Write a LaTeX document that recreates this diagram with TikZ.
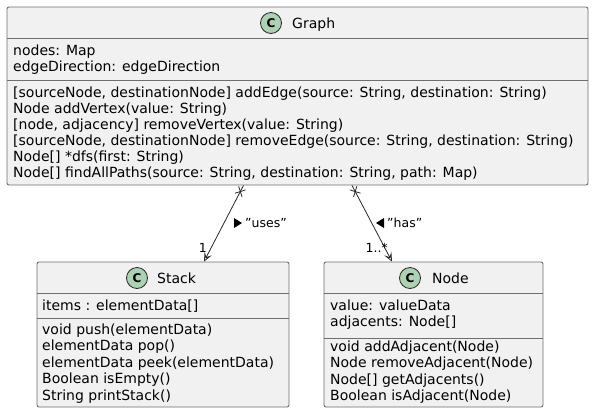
\documentclass[tikz,border=0pt]{standalone}
\usepackage{fontspec}
\setmainfont{DejaVu Sans}
\usepackage[x11names]{xcolor}
\usepackage{tikz}
\usetikzlibrary{arrows.meta,shapes.misc}

\definecolor{boxfill}{HTML}{F1F1F1}
\definecolor{boxline}{HTML}{6E6E6E}
\definecolor{spotfill}{HTML}{ADD1B2}

\tikzset{
    classbox/.style={draw=boxline, fill=boxfill, rounded corners=2pt, line width=0.9pt, inner sep=0pt},
    spot/.style={circle, draw=black!85, fill=spotfill, line width=0.8pt, minimum size=21pt, inner sep=0pt, font=\fontsize{12}{12}\selectfont\bfseries},
    title/.style={anchor=base west, inner sep=0pt, font=\fontsize{14}{16}\selectfont},
    member/.style={anchor=base west, inner sep=0pt, font=\fontsize{14}{16}\selectfont},
    tag/.style={inner sep=0pt, font=\fontsize{12.5}{14}\selectfont},
    assoc/.style={draw=black!85, line width=0.8pt, -{Stealth[length=9pt, width=8pt, inset=4pt, open, fill=none]}},
    xmark/.style={cross out, draw=black!85, line width=0.8pt, minimum size=7pt, inner sep=0pt}
}

\begin{document}
\begin{tikzpicture}[x=1pt, y=-1pt]
    \useasboundingbox (0,0) rectangle (594,413);
        %Class boxes
    \node[classbox, minimum width=581pt, minimum height=178pt] (graph) at (297.5,96) {};
    \node[classbox, minimum width=252pt, minimum height=145pt] (stack) at (163,334.5) {};
    \node[classbox, minimum width=219pt, minimum height=145pt] (node) at (433.5,334.5) {};
        %Dividers
    \foreach \y in {38.5, 80}
    \draw[boxline, line width=0.9pt] (7,\y) -- (588,\y);
    \foreach \y in {293, 318}
    \draw[boxline, line width=0.9pt] (37,\y) -- (289,\y);
    \foreach \y in {293, 338}
    \draw[boxline, line width=0.9pt] (324,\y) -- (543,\y);
        %Headers
    \node[spot] (graphC) at (271,23) {C};
    \node[title] (graphT) at (292,28) {Graph};
    \node[spot] (stackC) at (137,278) {C};
    \node[title] (stackT) at (157,283) {Stack};
    \node[spot] (nodeC) at (410,278) {C};
    \node[title] (nodeT) at (432,283) {Node};
        %Graph members
    \node[member] (gA1) at (13,55.5) {nodes: Map};
    \node[member] (gA2) at (13,71.5) {edgeDirection: edgeDirection};
    \foreach \t [count=\i] in {
        {[sourceNode, destinationNode] addEdge(source: String, destination: String)},
        {Node addVertex(value: String)},
        {[node, adjacency] removeVertex(value: String)},
        {[sourceNode, destinationNode] removeEdge(source: String, destination: String)},
        {Node[] *dfs(first: String)},
        {Node[] findAllPaths(source: String, destination: String, path: Map)}}
    \node[member] (gM\i) at (13,80.9+16.1*\i) {\t};
        %Stack members
    \node[member] (sA1) at (42,310) {items : elementData[]};
    \foreach \t [count=\i] in {
        {void push(elementData)},
        {elementData pop()},
        {elementData peek(elementData)},
        {Boolean isEmpty()},
        {String printStack()}}
    \node[member] (sM\i) at (42,318+16.4*\i) {\t};
        %Node members
    \node[member] (nA1) at (330,310) {value: valueData};
    \node[member] (nA2) at (330,326) {adjacents: Node[]};
    \foreach \t [count=\i] in {
        {void addAdjacent(Node)},
        {Node removeAdjacent(Node)},
        {Node[] getAdjacents()},
        {Boolean isAdjacent(Node)}}
    \node[member] (nM\i) at (330,335.5+16.2*\i) {\t};
        %Associations
    \draw[assoc] ([xshift=-54pt]graph.south) -- node[pos=0.08, xmark, sloped] (usesX) {} ([xshift=41pt]stack.north);
    \draw[assoc] ([xshift=54.5pt]graph.south) -- node[pos=0.08, xmark, sloped] (hasX) {} ([xshift=-41.5pt]node.north);
        %Labels
    \node[tag, anchor=west] (usesL) at (245,223) {\char34uses\char34};
    \fill (usesL.west) ++(-11,-5) -- ++(8,5) -- ++(-8,5) -- cycle;
    \node[tag, anchor=west] (hasL) at (387,223) {\char34has\char34};
    \fill (hasL.west) ++(-3,-5) -- ++(-8,5) -- ++(8,5) -- cycle;
    \node[tag, anchor=base east] (usesM) at (207,252) {1};
    \node[tag, anchor=base east] (hasM) at (388,252) {1..*};
\end{tikzpicture}
\end{document}
